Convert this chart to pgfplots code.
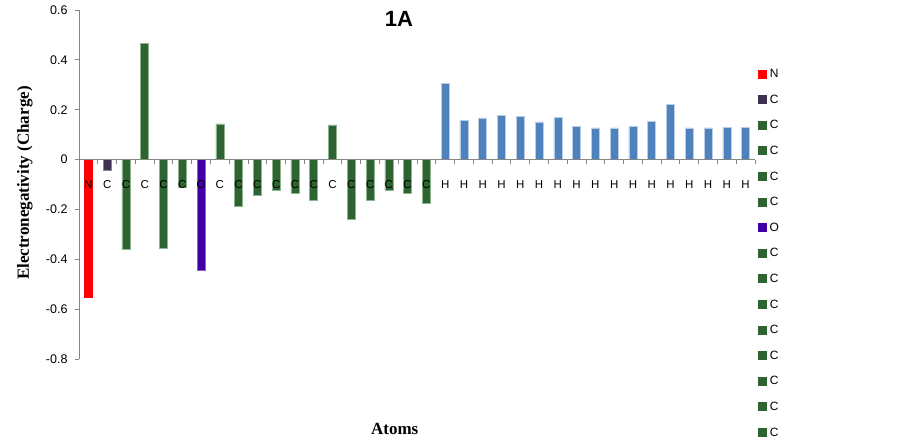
\documentclass[border=0pt]{standalone}
\usepackage{fontspec}
\setmainfont{Liberation Sans}
\newfontfamily\tnr{Liberation Serif}
\usepackage{pgfplots}
\pgfplotsset{compat=1.18}

\definecolor{cN}{HTML}{FF0000}
\definecolor{cC1}{HTML}{3F3151}
\definecolor{cG}{HTML}{2E6431}
\definecolor{cGl}{HTML}{8DB48F}
\definecolor{cO}{HTML}{4000A8}
\definecolor{cH}{HTML}{4F81BD}
\definecolor{cHl}{HTML}{B9CDE5}
\definecolor{axgray}{HTML}{868686}

\begin{document}
\begin{tikzpicture}
\begin{axis}[
    name=ax,
    scale only axis,
    width=676pt, height=349pt,
    xmin=-0.5, xmax=35.5,
    ymin=-0.8, ymax=0.6,
    axis on top,
    axis y line=left,
    axis x line=middle,
    axis line style={draw=axgray, line width=0.8pt, -},
    tick align=outside,
    major tick length=4pt,
    tick style={draw=axgray, line width=0.8pt},
    ytick={-0.8,-0.6,...,0.6},
    yticklabel style={font=\fontsize{12.5}{14}\selectfont, xshift=-4pt},
    /pgf/number format/assume math mode=true,
    /pgf/number format/fixed,
    /pgf/number format/precision=1,
    xtick={-0.5,0.5,...,35.5},
    xticklabels={},
    extra x ticks={0,1,...,35},
    extra x tick labels={N,C,C,C,C,C,O,C,C,C,C,C,C,C,C,C,C,C,C,H,H,H,H,H,H,H,H,H,H,H,H,H,H,H,H,H},
    extra x tick style={major tick length=0pt,
        tick label style={font=\fontsize{11.5}{12}\selectfont, anchor=center, text height=8pt, text depth=0pt, yshift=-25pt}},
    title={\bfseries 1A},
    title style={at={(axis description cs:0.4734,0.935)}, anchor=base, font=\fontsize{22}{24}\selectfont},
    ylabel={\tnr\bfseries Electronegativity (Charge)},
    ylabel style={at={(axis description cs:-0.0800,0.504)}, anchor=center, font=\fontsize{17}{19}\selectfont},
    xlabel={\tnr\bfseries Atoms},
    xlabel style={at={(axis description cs:0.467,-0.2006)}, anchor=center, font=\fontsize{17}{19}\selectfont},
    legend entries={N,C,C,C,C,C,O,C,C,C,C,C,C,C,C},
    legend image code/.code={\fill[#1] (0pt,-4pt) rectangle (8pt,4pt);},
    legend style={at={(axis description cs:1.0044,0.830)}, anchor=north west,
        draw=none, fill=none, inner sep=0pt, row sep=17.2pt,
        font=\fontsize{12}{12}\selectfont,
        nodes={inner sep=0pt, text height=8pt, text depth=0pt},
        /tikz/every odd column/.append style={column sep=3pt}},
    clip=false,
]
\addplot[ybar, bar width=8pt, bar shift=0pt, fill=cN, draw=cN, forget plot] coordinates {(0,-0.551)};
\addplot[ybar, bar width=8pt, bar shift=0pt, fill=cC1, draw=cC1!60!white, forget plot] coordinates {(1,-0.044)};
\addplot[ybar, bar width=8pt, bar shift=0pt, fill=cG, draw=cGl, line width=0.5pt, forget plot] coordinates {
    (2,-0.359) (3,0.467) (4,-0.357) (5,-0.113)
    (7,0.143) (8,-0.187) (9,-0.143) (10,-0.124) (11,-0.135) (12,-0.163)
    (13,0.139) (14,-0.240) (15,-0.164) (16,-0.123) (17,-0.135) (18,-0.176)
};
\addplot[ybar, bar width=8pt, bar shift=0pt, fill=cO, draw=cO!60!white, forget plot] coordinates {(6,-0.443)};
\addplot[ybar, bar width=8pt, bar shift=0pt, fill=cH, draw=cHl, line width=0.5pt, forget plot] coordinates {
    (19,0.305) (20,0.156) (21,0.167) (22,0.177) (23,0.172) (24,0.151)
    (25,0.169) (26,0.132) (27,0.127) (28,0.127) (29,0.132) (30,0.153)
    (31,0.220) (32,0.127) (33,0.127) (34,0.130) (35,0.130)
};
\addlegendimage{cN}
\addlegendimage{cC1}
\addlegendimage{cG}
\addlegendimage{cG}
\addlegendimage{cG}
\addlegendimage{cG}
\addlegendimage{cO}
\addlegendimage{cG}
\addlegendimage{cG}
\addlegendimage{cG}
\addlegendimage{cG}
\addlegendimage{cG}
\addlegendimage{cG}
\addlegendimage{cG}
\addlegendimage{cG}
\end{axis}
\pgfresetboundingbox
\path ([shift={(-79pt,-85pt)}]ax.south west) rectangle ++(902pt,444pt);
\end{tikzpicture}
\end{document}
